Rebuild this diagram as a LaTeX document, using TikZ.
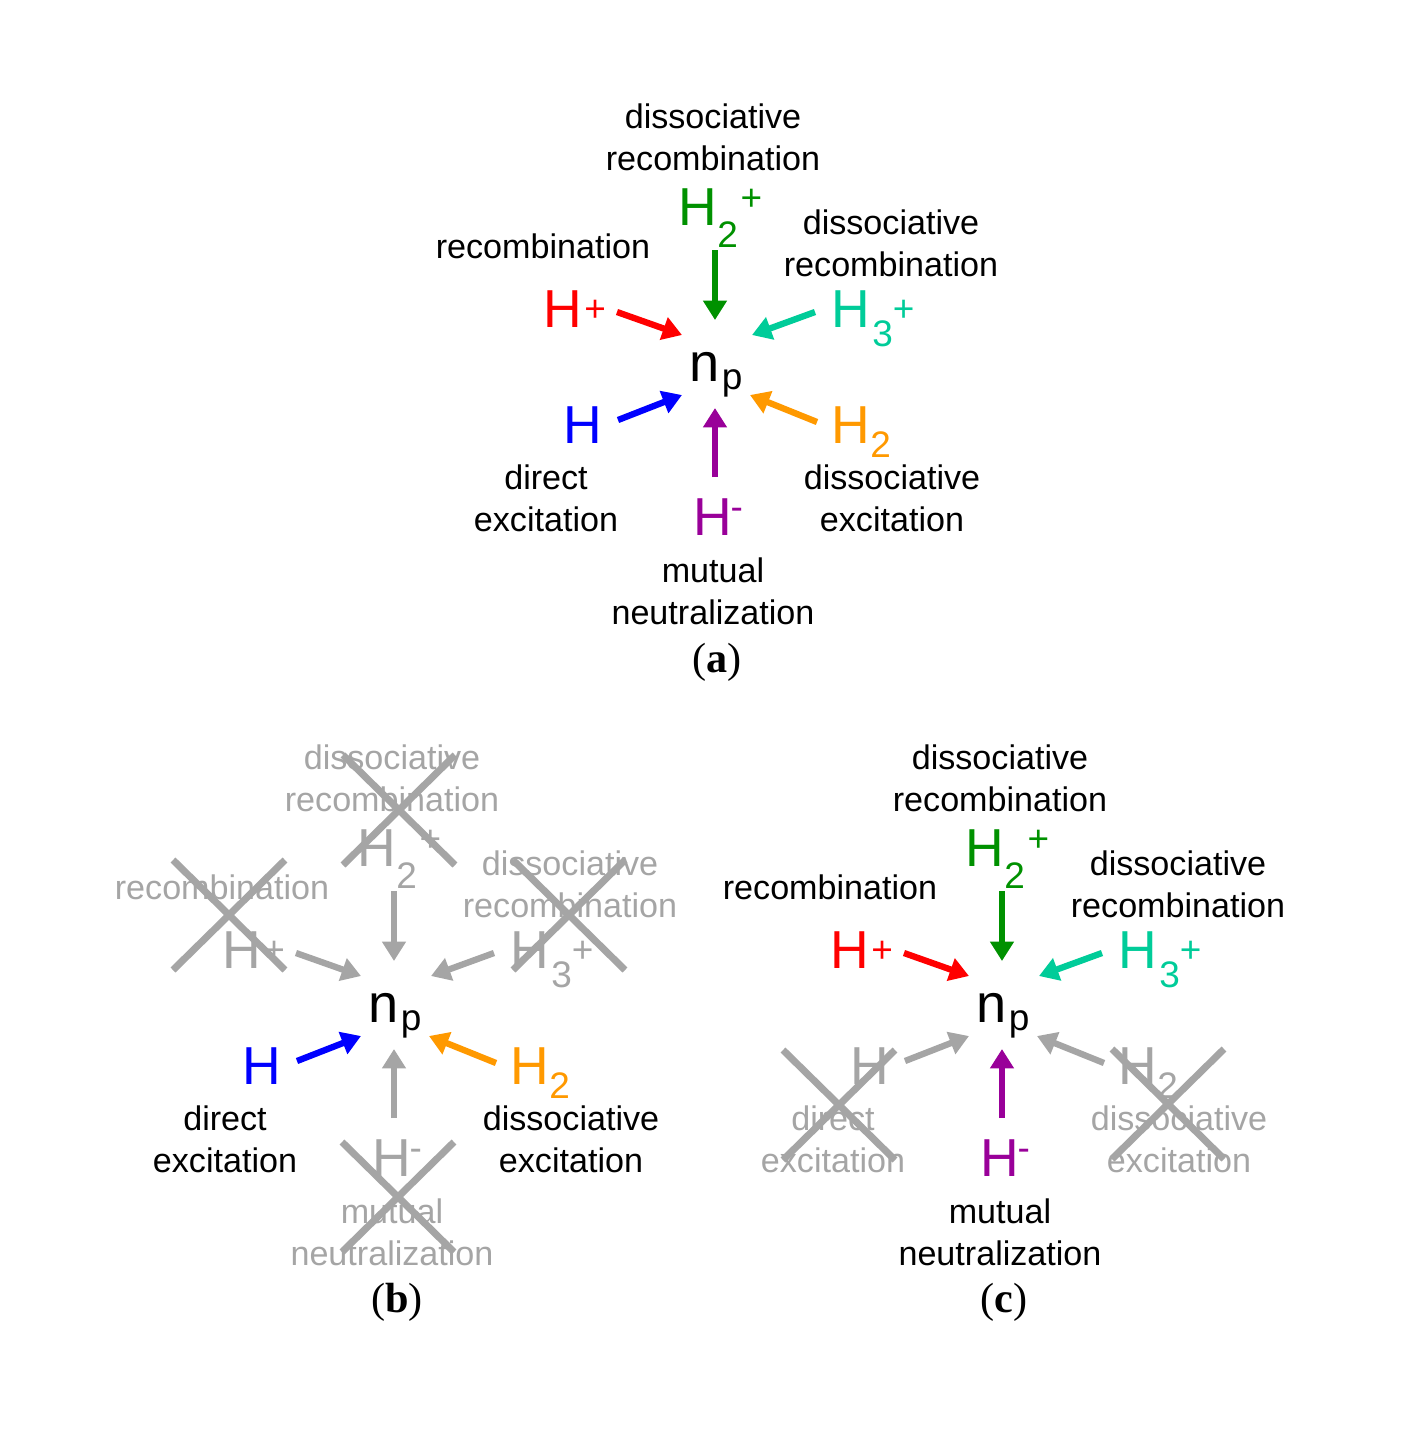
\documentclass[tikz,border=0pt]{standalone}
\usepackage{fontspec}
\setmainfont{Liberation Sans}
\newfontfamily\capfont{Liberation Serif}
\usetikzlibrary{arrows.meta}
\definecolor{cgreen}{RGB}{0,145,0}
\definecolor{cred}{RGB}{255,0,0}
\definecolor{cteal}{RGB}{0,204,153}
\definecolor{cblue}{RGB}{0,0,255}
\definecolor{corange}{RGB}{255,153,0}
\definecolor{cpurple}{RGB}{153,0,153}
\definecolor{cgray}{RGB}{165,165,165}
\newcommand\ssfont{\fontsize{10.5}{12}\selectfont}
\newcommand\Lo[2]{\raisebox{-#1}{\ssfont #2}}
\newcommand\Hi[2]{\raisebox{#1}{\ssfont #2}}
\tikzset{
  sp/.style={inner sep=0pt,font=\fontsize{15.2}{18}\selectfont},
  lab/.style={inner sep=0pt,align=center,font=\fontsize{9.7}{11.7}\selectfont},
  arr/.style={line width=1.8pt,-{Triangle[length=5.5pt,width=6.5pt]}},
  xline/.style={line width=2pt,cgray},
  capt/.style={inner sep=0pt,anchor=base,font=\capfont\fontsize{12}{14}\selectfont}
}
% #1 flag, #2 colour, #3 name, #4 species pos, #5 species text,
% #6 arrow tail, #7 arrow tip, #8 label pos (baseline of last line), #9 label text
\newcommand\Item[9]{%
  \ifnum#1=1 \def\sc{#2}\def\lc{black}\else\def\sc{cgray}\def\lc{cgray}\fi
  \node[sp,text=\sc,anchor=base west] (#3) at #4 {#5};
  \coordinate (#3-s) at #6;
  \coordinate (#3-e) at #7;
  \draw[arr,color=\sc] (#3-s) -- (#3-e);
  \node[lab,text=\lc,anchor=base] (#3-lab) at #8 {#9};
}
\newcommand\Cross[2]{%
  \ifnum#1=0
  \begin{scope}[shift={#2}]
    \draw[xline] (-56,-55) -- (56,55) (-56,55) -- (56,-55);
  \end{scope}
  \fi
}
\newcommand\Panel[8]{%
  \begin{scope}[shift={#2}]
    \node[sp,anchor=base west,font=\fontsize{15.4}{18}\selectfont] (#1-np) at (-26,16) {n\kern0.6pt\Lo{2.3pt}{p}};
    \Item{#3}{cgreen}{#1-h2p}{(-37,-140)}{H\Lo{6.3pt}{2}\kern0.8pt\Hi{4pt}{+}}{(0,-115)}{(0,-45)}{(-2,-195)}{dissociative\\recombination}
    \Item{#4}{cred}{#1-hp}{(-172,-38)}{H\kern0.6pt\Hi{1.6pt}{+}}{(-98,-53)}{(-33,-30)}{(-172,-107)}{recombination}
    \Item{#5}{cteal}{#1-h3p}{(116,-38)}{H\kern0.6pt\Lo{5.5pt}{3}\Hi{1.6pt}{+}}{(100,-53)}{(37,-30)}{(176,-89)}{dissociative\\recombination}
    \Item{#6}{cblue}{#1-h}{(-152,78)}{H}{(-97,55)}{(-33,30)}{(-169,166)}{direct\\excitation}
    \Item{#7}{corange}{#1-h2}{(116,78)}{H\Lo{4pt}{2}}{(102,57)}{(35,30)}{(177,166)}{dissociative\\excitation}
    \Item{#8}{cpurple}{#1-hm}{(-22,170)}{H\kern-0.5pt\Hi{4.3pt}{-}}{(0,112)}{(0,43)}{(-2,259)}{mutual\\neutralization}
    \Cross{#3}{(5,-196)}
    \Cross{#4}{(-165,-91)}
    \Cross{#5}{(175,-91)}
    \Cross{#6}{(-163,99)}
    \Cross{#7}{(166,98)}
    \Cross{#8}{(4,191)}
  \end{scope}
}
\begin{document}
\begin{tikzpicture}[x=0.01cm,y=-0.01cm]
  \useasboundingbox[fill=white] (0,0) rectangle (1416,1438);
  \Panel{a}{(715,365)}{1}{1}{1}{1}{1}{1}
  \Panel{b}{(394,1006)}{0}{0}{0}{1}{1}{0}
  \Panel{c}{(1002,1006)}{1}{1}{1}{0}{0}{1}
  \node[capt] (capa) at (717,672) {(\textbf{a})};
  \node[capt] (capb) at (397,1312) {(\textbf{b})};
  \node[capt] (capc) at (1004,1312) {(\textbf{c})};
\end{tikzpicture}
\end{document}
